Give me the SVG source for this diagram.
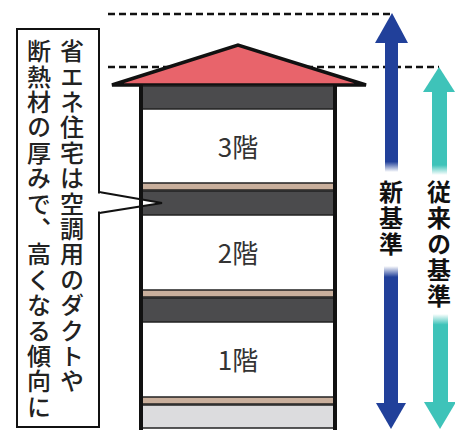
<svg xmlns="http://www.w3.org/2000/svg" width="455" height="430" viewBox="0 0 455 430">
  <style>
    .jp { font-family: "Noto Sans CJK JP", "Noto Sans", sans-serif; }
    .vert { writing-mode: vertical-rl; }
    .floor { font-size: 26px; fill: #333; text-anchor: middle; }
    .band-dark { fill: #4b4b4d; stroke: #222; stroke-width: 1.5; }
    .band-tan { fill: #c9af9c; stroke: #222; stroke-width: 1.5; }
    .room { fill: #ffffff; }
    .wall { fill: #111; }
    .guide { stroke: #111; stroke-width: 2.5; stroke-dasharray: 7 4; fill: none; }
    .callout { fill: #fff; stroke: #111; stroke-width: 2; }
    .note { font-size: 24px; font-weight: 500; fill: #222; letter-spacing: 1.4px; }
    .axis-label { font-size: 24px; font-weight: bold; fill: #111; letter-spacing: 2px; }
  </style>
  <defs>
    <linearGradient id="fadeNewUp" gradientUnits="userSpaceOnUse" x1="0" y1="43" x2="0" y2="172">
      <stop offset="0.92" stop-color="#21409a"/>
      <stop offset="1" stop-color="#21409a" stop-opacity="0"/>
    </linearGradient>
    <linearGradient id="fadeNewDown" gradientUnits="userSpaceOnUse" x1="0" y1="266" x2="0" y2="404">
      <stop offset="0" stop-color="#21409a" stop-opacity="0"/>
      <stop offset="0.08" stop-color="#21409a"/>
    </linearGradient>
    <linearGradient id="fadeOldUp" gradientUnits="userSpaceOnUse" x1="0" y1="92" x2="0" y2="175">
      <stop offset="0.88" stop-color="#3ec3b9"/>
      <stop offset="1" stop-color="#3ec3b9" stop-opacity="0"/>
    </linearGradient>
    <linearGradient id="fadeOldDown" gradientUnits="userSpaceOnUse" x1="0" y1="314" x2="0" y2="403">
      <stop offset="0" stop-color="#3ec3b9" stop-opacity="0"/>
      <stop offset="0.12" stop-color="#3ec3b9"/>
    </linearGradient>
  </defs>

  <rect width="455" height="430" fill="#ffffff"/>

  <!-- height reference lines -->
  <g id="guides">
    <line class="guide" x1="108" y1="14" x2="392" y2="14"/>
    <line class="guide" x1="108" y1="67" x2="439" y2="67"/>
  </g>

  <!-- house cross-section -->
  <g id="house">
    <polygon points="112,85 238,45 366,85" fill="#e8646b" stroke="#111" stroke-width="3.5" stroke-linejoin="miter"/>
    <rect class="band-dark" x="141" y="86" width="194" height="23"/>
    <rect class="room" x="141" y="110" width="194" height="72"/>
    <rect class="band-tan" x="141" y="183" width="194" height="7"/>
    <rect class="band-dark" x="141" y="191" width="194" height="24"/>
    <rect class="room" x="141" y="216" width="194" height="73"/>
    <rect class="band-tan" x="141" y="290" width="194" height="7"/>
    <rect class="band-dark" x="141" y="298" width="194" height="24"/>
    <rect class="room" x="141" y="323" width="194" height="73"/>
    <rect class="band-tan" x="141" y="397" width="194" height="7"/>
    <rect x="141" y="405" width="194" height="23" fill="#dcdcde" stroke="#222" stroke-width="1.5"/>
  </g>

  <g id="floor3"><text class="jp floor" x="238" y="157">3階</text></g>
  <g id="floor2"><text class="jp floor" x="238" y="263">2階</text></g>
  <g id="floor1"><text class="jp floor" x="238" y="370">1階</text></g>

  <!-- callout box with pointer into the floor gap -->
  <g id="callout">
    <rect class="callout" x="17" y="29" width="82" height="398"/>
    <polygon points="99,192 162,203 99,213" fill="#fff" stroke="#111" stroke-width="2" stroke-linejoin="miter"/>
    <rect x="97" y="193.5" width="4" height="18" fill="#fff"/>
    <text class="jp note vert" x="72" y="39">省エネ住宅は空調用のダクトや</text>
    <text class="jp note vert" x="39" y="39">断熱材の厚みで、高くなる傾向に</text>
  </g>

  <!-- outer walls drawn above the pointer -->
  <g id="walls">
    <rect class="wall" x="139" y="85" width="4" height="345"/>
    <rect class="wall" x="333" y="85" width="4" height="345"/>
  </g>

  <!-- height arrows -->
  <g id="connectors">
    <g id="arrow-new">
      <polygon points="375,43 392,13 408,43" fill="#21409a"/>
      <rect x="385" y="42" width="13" height="130" fill="url(#fadeNewUp)"/>
      <rect x="384" y="266" width="14" height="138" fill="url(#fadeNewDown)"/>
      <polygon points="376,403 391,429 406,403" fill="#21409a"/>
    </g>
    <g id="arrow-old">
      <polygon points="423,92 439,67 455,92" fill="#3ec3b9"/>
      <rect x="432" y="91" width="15" height="84" fill="url(#fadeOldUp)"/>
      <rect x="433" y="314" width="15" height="89" fill="url(#fadeOldDown)"/>
      <polygon points="424,402 440,429 456,402" fill="#3ec3b9"/>
    </g>
  </g>

  <g id="label-new"><text class="jp axis-label vert" x="391" y="180">新基準</text></g>
  <g id="label-old"><text class="jp axis-label vert" x="439" y="180">従来の基準</text></g>
</svg>
